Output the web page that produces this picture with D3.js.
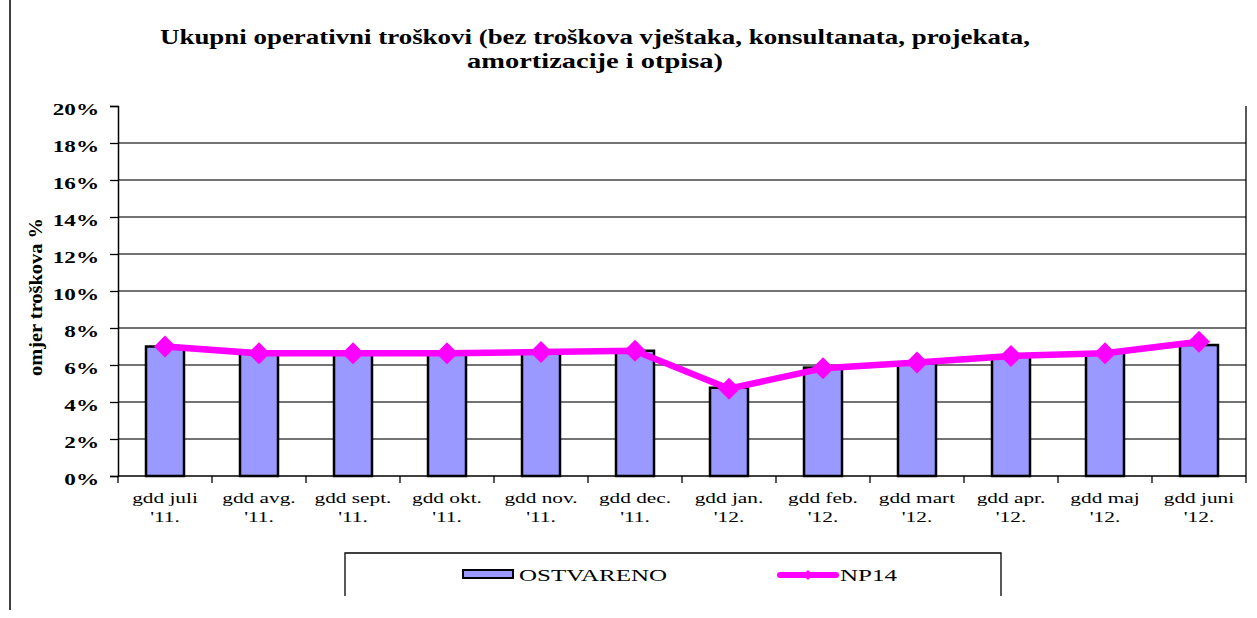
<!DOCTYPE html>
<html>
<head>
<meta charset="utf-8">
<script src="https://cdn.jsdelivr.net/npm/d3@7"></script>
<style>
  body { margin: 0; background: #fff; }
  svg { display: block; }
  text { font-family: "Liberation Serif", "Times New Roman", serif; fill: #000; }
</style>
</head>
<body>
<script>
const categories = ["gdd juli '11.", "gdd avg. '11.", "gdd sept. '11.", "gdd okt. '11.", "gdd nov. '11.", "gdd dec. '11.",
                    "gdd jan. '12.", "gdd feb. '12.", "gdd mart '12.", "gdd apr. '12.", "gdd maj '12.", "gdd juni '12."];
const ostvareno = [7.0, 6.72, 6.72, 6.72, 6.75, 6.77, 4.77, 5.86, 6.09, 6.5, 6.68, 7.08];
const np14 = [7.0, 6.63, 6.63, 6.63, 6.7, 6.77, 4.72, 5.82, 6.14, 6.49, 6.63, 7.26];
const yTicks = [0, 2, 4, 6, 8, 10, 12, 14, 16, 18, 20];
const titleLines = ["Ukupni operativni troškovi (bez troškova vještaka, konsultanata, projekata,",
                    "amortizacije i otpisa)"];
const yTitle = "omjer troškova %";
const seriesNames = ["OSTVARENO", "NP14"];

const w = 1257, h = 618;
const plotL = 118, plotR = 1246, plotT = 106, plotB = 476;
const serif = "'Liberation Serif', 'Times New Roman', serif";

// the source picture is stretched sideways, so widen text glyphs a bit
function stretch(sel, k) {
  sel.each(function() {
    const len = this.getComputedTextLength();
    d3.select(this).attr("textLength", len * k).attr("lengthAdjust", "spacingAndGlyphs");
  });
}

const svg = d3.select("body").append("svg")
  .attr("width", w)
  .attr("height", h);

// outer chart border (left side only visible)
svg.append("line")
  .attr("x1", 10).attr("x2", 10)
  .attr("y1", 0).attr("y2", 610)
  .attr("stroke", "#000").attr("stroke-width", 1.5);

const x = d3.scaleBand()
  .domain(categories)
  .range([plotL, plotR])
  .padding(0);

const y = d3.scaleLinear()
  .domain([0, 20])
  .range([plotB, plotT]);

// title
svg.selectAll("text.title")
  .data(titleLines)
  .enter()
  .append("text")
  .attr("class", "title")
  .attr("x", 595)
  .attr("y", (d, i) => 44 + i * 24)
  .attr("text-anchor", "middle")
  .style("font-family", serif)
  .style("font-size", "21px")
  .style("font-weight", "bold")
  .attr("textLength", (d, i) => i == 0 ? 870 : 256)
  .attr("lengthAdjust", "spacingAndGlyphs")
  .text(d => d);

// gridlines
svg.append("g")
  .selectAll("line")
  .data(yTicks.filter(d => d > 0 && d < 20))
  .enter()
  .append("line")
  .attr("x1", plotL).attr("x2", plotR)
  .attr("y1", d => y(d)).attr("y2", d => y(d))
  .attr("stroke", "#444").attr("stroke-width", 1.3);

// right border of plot
svg.append("line")
  .attr("x1", plotR).attr("x2", plotR)
  .attr("y1", plotT).attr("y2", plotB)
  .attr("stroke", "#000").attr("stroke-width", 1.3);

// y axis
const yAxis = d3.axisLeft(y)
  .tickValues(yTicks)
  .tickSize(8)
  .tickPadding(11)
  .tickFormat(d => d + "%");

const gy = svg.append("g")
  .attr("transform", "translate(" + plotL + ",0)")
  .call(yAxis);
gy.select(".domain").attr("stroke", "#000").attr("stroke-width", 1.5);
gy.selectAll(".tick line").attr("stroke", "#000").attr("stroke-width", 1.3);
gy.selectAll(".tick text")
  .attr("dy", 8)
  .style("font-family", serif)
  .style("font-size", "17px")
  .style("font-weight", "bold")
  .attr("fill", "#000")
  .call(stretch, 1.36);

// y title
svg.append("text")
  .attr("transform", "translate(42,297) rotate(-90)")
  .attr("text-anchor", "middle")
  .style("font-family", serif)
  .style("font-size", "18px")
  .style("font-weight", "bold")
  .attr("textLength", 158)
  .attr("lengthAdjust", "spacingAndGlyphs")
  .text(yTitle);

// bars
const barW = 38;
svg.append("g")
  .selectAll("rect")
  .data(ostvareno)
  .enter()
  .append("rect")
  .attr("x", (d, i) => x(categories[i]) + x.bandwidth() / 2 - barW / 2)
  .attr("y", d => y(d))
  .attr("width", barW)
  .attr("height", d => y(0) - y(d))
  .attr("fill", "#9999ff")
  .attr("stroke", "#000")
  .attr("stroke-width", 2.5);

// x axis line and boundary ticks
svg.append("line")
  .attr("x1", plotL).attr("x2", plotR)
  .attr("y1", plotB).attr("y2", plotB)
  .attr("stroke", "#000").attr("stroke-width", 1.5);

const bounds = categories.map(c => x(c)).concat([x(categories[categories.length - 1]) + x.bandwidth()]);
svg.append("g")
  .selectAll("line")
  .data(bounds)
  .enter()
  .append("line")
  .attr("x1", d => d).attr("x2", d => d)
  .attr("y1", plotB).attr("y2", plotB + 7)
  .attr("stroke", "#000").attr("stroke-width", 1.3);

// x labels, two lines
const xl = svg.append("g")
  .selectAll("text")
  .data(categories)
  .enter()
  .append("text")
  .attr("text-anchor", "middle")
  .style("font-family", serif)
  .style("font-size", "15px");
xl.append("tspan")
  .attr("class", "l1")
  .attr("x", d => x(d) + x.bandwidth() / 2)
  .attr("y", 503)
  .text(d => d.slice(0, d.lastIndexOf(" ")));
xl.append("tspan")
  .attr("class", "l2")
  .attr("x", d => x(d) + x.bandwidth() / 2)
  .attr("y", 522)
  .text(d => d.slice(d.lastIndexOf(" ") + 1));
svg.selectAll("tspan").call(stretch, 1.42);

// NP14 line
const line = d3.line()
  .x((d, i) => x(categories[i]) + x.bandwidth() / 2)
  .y(d => y(d));

svg.append("path")
  .datum(np14)
  .attr("d", line)
  .attr("fill", "none")
  .attr("stroke", "#ff00ff")
  .attr("stroke-width", 6.5)
  .attr("stroke-linejoin", "round");

const dm = 11;
svg.append("g")
  .selectAll("path")
  .data(np14)
  .enter()
  .append("path")
  .attr("transform", (d, i) => "translate(" + (x(categories[i]) + x.bandwidth() / 2) + "," + y(d) + ")")
  .attr("d", "M0," + (-dm) + "L" + dm + ",0L0," + dm + "L" + (-dm) + ",0Z")
  .attr("fill", "#ff00ff");

// legend
svg.append("path")
  .attr("d", "M345,596V553H1001V596")
  .attr("fill", "none")
  .attr("stroke", "#000")
  .attr("stroke-width", 1.3);

svg.append("rect")
  .attr("x", 463).attr("y", 570)
  .attr("width", 50).attr("height", 8)
  .attr("fill", "#9999ff")
  .attr("stroke", "#000")
  .attr("stroke-width", 2);

svg.append("line")
  .attr("x1", 780).attr("x2", 836)
  .attr("y1", 575).attr("y2", 575)
  .attr("stroke", "#ff00ff").attr("stroke-width", 6)
  .attr("stroke-linecap", "round");
svg.append("path")
  .attr("transform", "translate(808,575)")
  .attr("d", "M0,-5L5,0L0,5L-5,0Z")
  .attr("fill", "#ff00ff");

svg.selectAll("text.leg")
  .data(seriesNames)
  .enter()
  .append("text")
  .attr("class", "leg")
  .attr("x", (d, i) => i == 0 ? 519 : 840)
  .attr("y", 581)
  .style("font-family", serif)
  .style("font-size", "16px")
  .attr("textLength", (d, i) => i == 0 ? 148 : 57)
  .attr("lengthAdjust", "spacingAndGlyphs")
  .text(d => d);
</script>
</body>
</html>
